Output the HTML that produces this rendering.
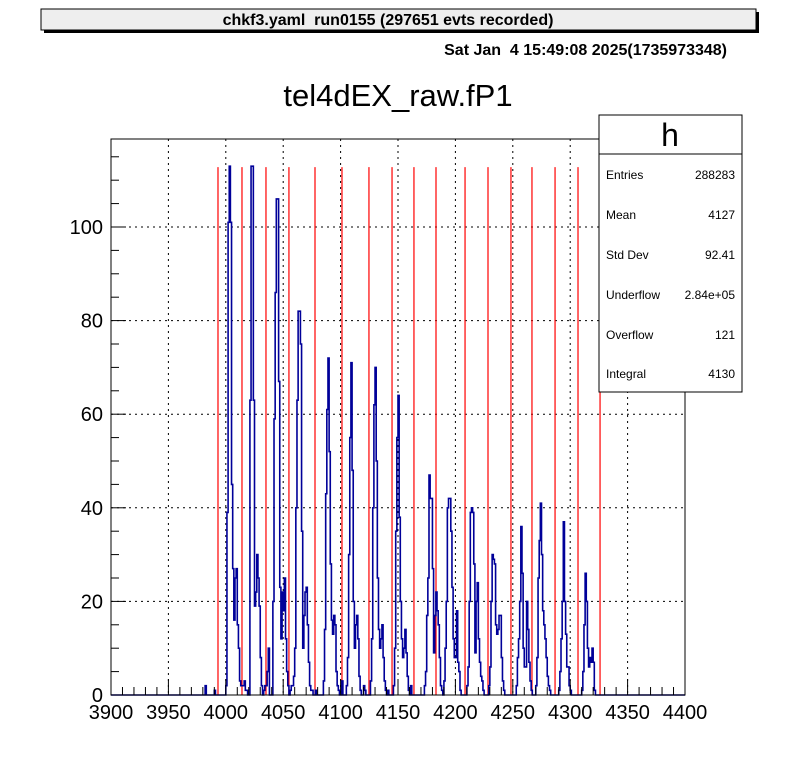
<!DOCTYPE html>
<html><head><meta charset="utf-8"><style>
body{margin:0;background:#fff;}
svg text{font-family:"Liberation Sans",sans-serif;}
</style></head><body>
<svg id="c" width="796" height="772" xmlns="http://www.w3.org/2000/svg">
<rect x="0" y="0" width="796" height="772" fill="#fff"/>
<g>
<rect x="44" y="12" width="715" height="21" fill="#000"/>
<rect x="41" y="9" width="715" height="21" fill="#eeeeee" stroke="#000" stroke-width="1"/>
<text x="388" y="25" text-anchor="middle" font-size="16" font-weight="bold" xml:space="preserve">chkf3.yaml  run0155 (297651 evts recorded)</text>
</g>
<text x="727" y="55" text-anchor="end" font-size="16" font-weight="bold" xml:space="preserve">Sat Jan  4 15:49:08 2025(1735973348)</text>
<text x="398" y="106" text-anchor="middle" font-size="31">tel4dEX_raw.fP1</text>
<g id="grid"></g>
<g id="reds"></g>
<path id="hist" fill="none" stroke="#000099" stroke-width="1.6"/>
<rect x="111" y="139" width="574" height="556" fill="none" stroke="#000" stroke-width="1"/>
<g id="axes"></g>
<g>
<rect x="599" y="115" width="143" height="277" fill="#fff" stroke="#000" stroke-width="1"/>
<line x1="599" y1="154" x2="742" y2="154" stroke="#000"/>
<text x="670" y="146" text-anchor="middle" font-size="32">h</text>
<g font-size="12">
<text x="606" y="179">Entries</text><text x="735" y="179" text-anchor="end">288283</text>
<text x="606" y="219">Mean</text><text x="735" y="219" text-anchor="end">4127</text>
<text x="606" y="259">Std Dev</text><text x="735" y="259" text-anchor="end">92.41</text>
<text x="606" y="299">Underflow</text><text x="735" y="299" text-anchor="end">2.84e+05</text>
<text x="606" y="339">Overflow</text><text x="735" y="339" text-anchor="end">121</text>
<text x="606" y="378">Integral</text><text x="735" y="378" text-anchor="end">4130</text>
</g></g>
</svg>
<script>
const xTicks=[3900,3950,4000,4050,4100,4150,4200,4250,4300,4350,4400];
const yTicks=[0,20,40,60,80,100];
const redLines=[3993.2,4014.1,4035,4055,4077.7,4101.2,4124.7,4144.8,4163.9,4183.1,4208.4,4228.4,4248.4,4266.7,4286.8,4306.8,4326];
const redTop=112.8;
const segStarts=[3982,4000,4021,4041,4059,4085,4105,4126,4146,4173,4190,4210,4229,4253,4270,4290,4310];
const segCounts=[
[2,0,0,0,0,0,0,0,1],
[2,39,101,113,101,45,27,16,25,27,15,10,3,2,2,2,3,1,1],
[63,113,113,63,19,22,30,25,19,8,2,0,1,2,2,5,10],
[20,59,86,106,106,67,23,12,22,18,25,12,5,2,0,1,2,2],
[4,10,40,63,82,82,75,35,10,17,22,23,15,7,2,1,1,0,0,1,0],
[3,14,43,61,72,52,28,16,13,17,15,5,2,1,0,0,3],
[2,8,30,55,71,48,20,10,15,17,12,4,1,0,0,2,1],
[3,12,40,62,70,50,25,14,10,12,15,8,3,1,0,1],
[2,10,35,55,64,38,20,12,8,10,14,9,4,1,0,2],
[2,5,17,25,47,42,42,27,9,17,22,18,15,8,2,1],
[3,10,20,40,42,42,35,23,12,8,8,18,7,5,1],
[2,6,20,39,40,39,28,9,20,24,12,7,4,3,1,0],
[2,6,20,30,29,28,15,13,14,17,17,8,3,1],
[2,8,12,20,36,26,10,6,6,20,14,7,3,1],
[2,8,25,33,41,30,18,15,12,8,4,2,1],
[1,5,12,20,37,20,13,6,6,2,1],
[1,5,15,26,20,10,6,8,7,10,7,1]];
const X0=111,X1=685,Y0=695,Y1=139,xmin=3900,xmax=4400,ymax=118.8;
const sx=v=>X0+(v-xmin)/(xmax-xmin)*(X1-X0);
const sy=v=>Y0-v/ymax*(Y0-Y1);
const NS="http://www.w3.org/2000/svg";
function mk(t,a,p){const e=document.createElementNS(NS,t);for(const k in a)e.setAttribute(k,a[k]);p.appendChild(e);return e;}
const grid=document.getElementById('grid'),axes=document.getElementById('axes'),reds=document.getElementById('reds');
xTicks.slice(1,-1).forEach(v=>{const l=mk('line',{x1:sx(v),x2:sx(v),y1:Y1,y2:Y0,stroke:'#000','stroke-dasharray':'2,4'},grid);

});
yTicks.slice(1).forEach(v=>{const l=mk('line',{x1:X0,x2:X1,y1:sy(v),y2:sy(v),stroke:'#000','stroke-dasharray':'2,4'},grid);

});
redLines.forEach(v=>{const l=mk('line',{x1:sx(v),x2:sx(v),y1:sy(redTop),y2:Y0,stroke:'#ff0000','stroke-width':1.2},reds);

});
const bins=new Map();
segStarts.forEach((s,i)=>segCounts[i].forEach((c,j)=>bins.set(s+j,c)));
let d='M'+X0+','+Y0;
for(let b=xmin;b<xmax;b++){const c=bins.get(b)||0;d+=' L'+sx(b)+','+sy(c)+' L'+sx(b+1)+','+sy(c);}
document.getElementById('hist').setAttribute('d',d);
for(let v=xmin;v<=xmax;v+=10){const major=(v%50===0);mk('line',{x1:sx(v),x2:sx(v),y1:Y0,y2:Y0-(major?16:8),stroke:'#000'},axes);}
for(let v=0;v<=ymax;v+=5){const major=(v%20===0);mk('line',{x1:X0,x2:X0+(major?15:8),y1:sy(v),y2:sy(v),stroke:'#000'},axes);}
xTicks.forEach(v=>{const t=mk('text',{x:sx(v),y:719,'text-anchor':'middle','font-size':20},axes);t.textContent=v;

});
yTicks.forEach(v=>{const t=mk('text',{x:103,y:sy(v)+7,'text-anchor':'end','font-size':20},axes);t.textContent=v;

});
</script>
</body></html>
